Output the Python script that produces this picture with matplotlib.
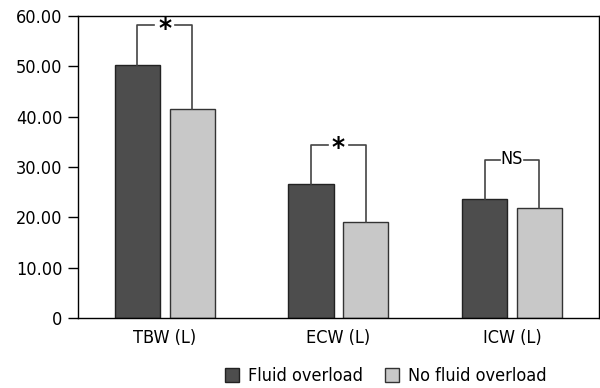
import numpy as np
from matplotlib import pyplot as plt
from matplotlib.patches import Patch

plt.rcParams['font.family'] = ['DejaVu Sans']
plt.rcParams['font.stretch'] = 'condensed'

categories = ["TBW (L)", "ECW (L)", "ICW (L)"]
fluid_overload = [50.3, 26.6, 23.6]
no_fluid_overload = [41.5, 19.1, 21.9]
sig_labels = ["*", "*", "NS"]
bracket_y = [58.1, 34.4, 31.4]
yticks = [0, 10, 20, 30, 40, 50, 60]

dark = "#4d4d4d"
light = "#c8c8c8"

fig = plt.figure(figsize=(6, 3.88), dpi=100)
ax = fig.add_axes([0.13, 0.180, 0.868, 0.779])

x = np.arange(len(categories))
off = 0.158
w = 0.26
ax.bar(x - off, fluid_overload, w, color=dark, edgecolor="#222222", linewidth=1)
ax.bar(x + off, no_fluid_overload, w, color=light, edgecolor="#333333", linewidth=1)

# significance brackets, with a gap for the label
for i in range(len(categories)):
    y0 = fluid_overload[i]
    y1 = no_fluid_overload[i]
    yb = bracket_y[i]
    g = 0.06 if sig_labels[i] == "*" else 0.068
    ax.plot([x[i] - off, x[i] - off, x[i] - g], [y0, yb, yb],
            color="#444444", linewidth=1.2, zorder=3)
    ax.plot([x[i] + g, x[i] + off, x[i] + off], [yb, yb, y1],
            color="#444444", linewidth=1.2, zorder=3)
    if sig_labels[i] == "*":
        ax.text(x[i], yb - 0.9, "*", ha="center", va="center", fontsize=20,
                fontweight="bold", zorder=4)
    else:
        ax.text(x[i], yb + 0.2, sig_labels[i], ha="center", va="center", fontsize=13,
                zorder=4)

ax.set_xlim(-0.5, 2.5)
ax.set_ylim(0, 60)
ax.set_yticks(yticks)
ax.set_yticklabels(["0" if t == 0 else "%.2f" % t for t in yticks], fontsize=13)
ax.set_xticks(x)
ax.set_xticklabels(categories, fontsize=13)
ax.tick_params(axis="x", length=0, pad=8)
ax.tick_params(axis="y", length=7, width=1, pad=4)
for s in ax.spines.values():
    s.set_linewidth(1)

handles = [Patch(facecolor=dark, edgecolor="#222222", label="Fluid overload"),
           Patch(facecolor=light, edgecolor="#333333", label="No fluid overload")]
fig.legend(handles=handles, loc="center", bbox_to_anchor=(0.643, 0.03), ncol=2,
           frameon=False, fontsize=13, handlelength=0.8, handleheight=0.8,
           handletextpad=0.5, columnspacing=1.2)

fig.savefig("out.png")
